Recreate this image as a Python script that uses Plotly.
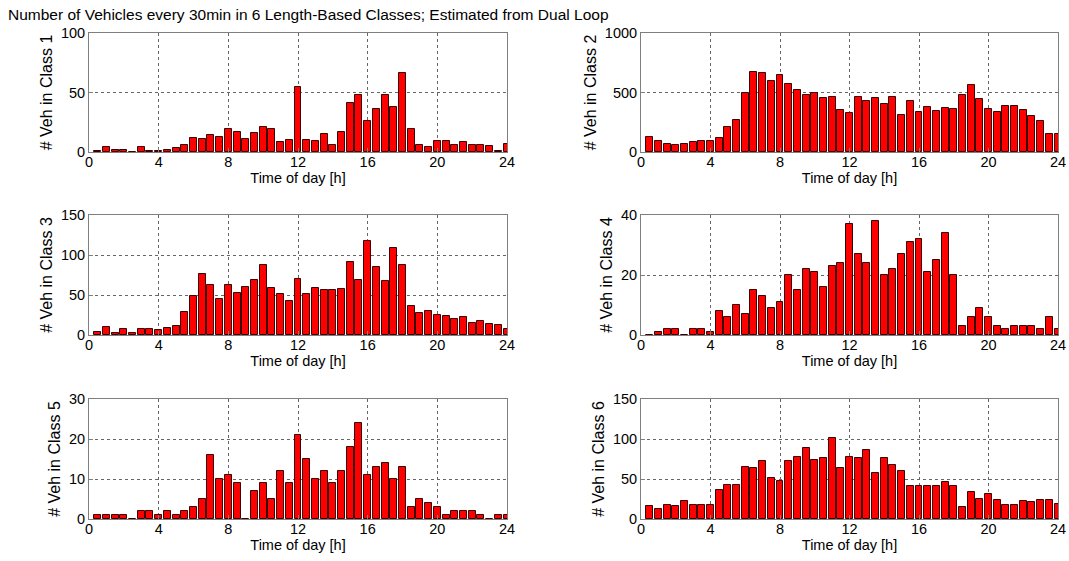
import plotly.graph_objects as go

time_h = [0.5 * i for i in range(1, 49)]

class1 = [1, 4, 2, 2, 0, 4, 1, 1, 2, 3, 6, 12, 11, 14, 13, 19, 17, 11, 16, 21, 19, 8, 10, 55,
          10, 9, 15, 6, 17, 41, 48, 26, 36, 48, 38, 66, 19, 6, 4, 9, 9, 6, 8, 6, 6, 5, 1, 7]
class2 = [130, 90, 70, 62, 67, 84, 95, 95, 120, 207, 272, 500, 675, 665, 600, 650, 570, 525, 480, 495,
          450, 460, 355, 325, 460, 430, 450, 400, 465, 315, 430, 335, 380, 345, 370, 360, 475, 560,
          445, 365, 335, 385, 390, 355, 300, 260, 150, 150]
class3 = [4, 10, 2, 8, 3, 7, 7, 6, 9, 11, 29, 49, 76, 62, 45, 63, 53, 60, 69, 87, 59, 51, 43, 70,
          51, 59, 56, 56, 57, 91, 69, 118, 85, 68, 109, 87, 36, 28, 30, 25, 24, 20, 22, 15, 18, 14, 13, 7]
class4 = [0, 1, 2, 2, 0, 2, 2, 1, 8, 6, 10, 7, 15, 13, 9, 11, 20, 15, 22, 21, 16, 23, 24, 37,
          27, 24, 38, 20, 22, 27, 31, 32, 21, 25, 34, 20, 3, 6, 9, 6, 3, 2, 3, 3, 3, 2, 6, 2]
class5 = [1, 1, 1, 1, 0, 2, 2, 1, 2, 1, 2, 3, 5, 16, 10, 11, 9, 0, 7, 9, 5, 12, 9, 21,
          15, 10, 12, 9, 12, 18, 24, 11, 13, 14, 10, 13, 3, 5, 4, 3, 1, 2, 2, 2, 1, 0, 1, 1]
class6 = [16, 12, 18, 16, 22, 17, 17, 18, 36, 43, 43, 65, 64, 72, 51, 48, 73, 77, 89, 74, 76, 101, 64, 78,
          76, 86, 57, 76, 68, 60, 41, 41, 41, 41, 46, 41, 15, 34, 25, 31, 24, 17, 17, 22, 21, 24, 24, 19]

series = [class1, class2, class3, class4, class5, class6]
y_labels = ["# Veh in Class 1", "# Veh in Class 2", "# Veh in Class 3",
            "# Veh in Class 4", "# Veh in Class 5", "# Veh in Class 6"]
y_ranges = [[0, 100], [0, 1000], [0, 150], [0, 40], [0, 30], [0, 150]]
y_ticks = [[0, 50, 100], [0, 500, 1000], [0, 50, 100, 150], [0, 20, 40], [0, 10, 20, 30], [0, 50, 100, 150]]
x_ticks = [0, 4, 8, 12, 16, 20, 24]
title_text = "Number of Vehicles every 30min in 6 Length-Based Classes; Estimated from Dual Loop"

W, H = 1069, 561
col_px = [(89, 507), (641, 1058)]
row_px = [(33, 152), (215, 335), (399, 519)]

FONT = "Liberation Sans, Arial, sans-serif"
fig = go.Figure()
layout = {}
for i, vals in enumerate(series):
    r, c = divmod(i, 2)
    n = i + 1
    xa = "x" if n == 1 else f"x{n}"
    ya = "y" if n == 1 else f"y{n}"
    fig.add_trace(go.Bar(
        x=time_h, y=vals, width=0.4, xaxis=xa, yaxis=ya,
        marker=dict(color="#ff0000", line=dict(color="#3a0000", width=1)),
        showlegend=False, hoverinfo="x+y",
    ))
    x0, x1 = col_px[c]
    y0, y1 = row_px[r]
    common = dict(
        showline=True, mirror=True, linecolor="#7f7f7f", linewidth=1,
        showgrid=True, gridcolor="#666666", griddash="dot", gridwidth=1,
        ticks="inside", ticklen=4, tickcolor="#7f7f7f", zeroline=False,
        tickfont=dict(family=FONT, size=14.5, color="black"),
        automargin=False,
    )
    layout["xaxis" if n == 1 else f"xaxis{n}"] = dict(
        common, domain=[x0 / W, x1 / W], range=[0, 24], tickvals=x_ticks,
        anchor=ya, ticklabelstandoff=-3,
        title=dict(text="Time of day [h]", standoff=0,
                   font=dict(family=FONT, size=14.5, color="black")),
    )
    layout["yaxis" if n == 1 else f"yaxis{n}"] = dict(
        common, domain=[1 - y1 / H, 1 - y0 / H], range=y_ranges[i], tickvals=y_ticks[i],
        anchor=xa,
        title=dict(text=y_labels[i], standoff=4,
                   font=dict(family=FONT, size=16, color="black")),
    )

fig.update_layout(
    **layout,
    width=W, height=H,
    margin=dict(l=0, r=0, t=0, b=0),
    paper_bgcolor="white", plot_bgcolor="white",
    bargap=0,
    title=dict(text=title_text, x=8 / W, xanchor="left", y=1 - 15 / H, yanchor="middle",
               pad=dict(l=0, r=0, t=0, b=0),
               font=dict(family=FONT, size=15.5, color="black")),
)
fig.write_html("out.html", config={"displayModeBar": False},
               post_script="document.body.style.margin='0';")
